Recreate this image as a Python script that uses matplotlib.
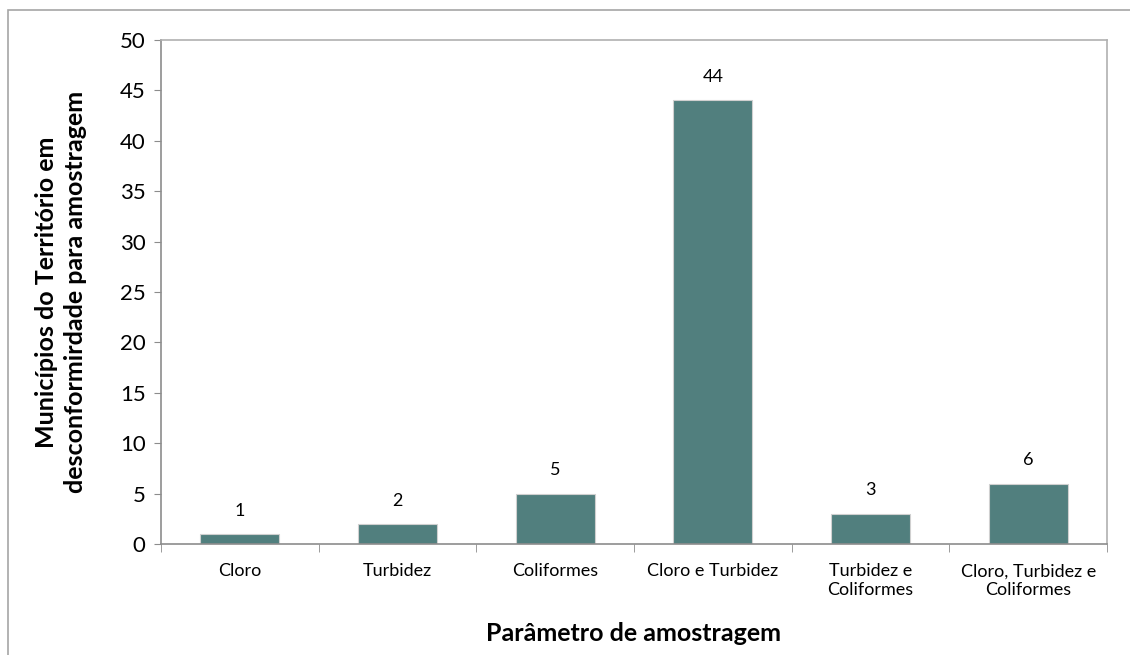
import matplotlib.pyplot as plt
from matplotlib.patches import Rectangle

plt.rcParams['font.family'] = ['Lato', 'DejaVu Sans']

categorias = ['Cloro', 'Turbidez', 'Coliformes', 'Cloro e Turbidez',
              'Turbidez e\nColiformes', 'Cloro, Turbidez e\nColiformes']
valores = [1, 2, 5, 44, 3, 6]

cor_barra = '#517f7e'
cor_eixo = '#8c8c8c'

fig = plt.figure(figsize=(11.3, 6.55), dpi=100)
# borda da figura (estilo Excel)
fig.patches.append(Rectangle((8 / 1130, -0.01), 1.1, 1 - 10 / 655 + 0.01,
                             transform=fig.transFigure, fill=False,
                             edgecolor='#a6a6a6', linewidth=1.2))

ax = fig.add_axes([161 / 1130, 1 - 544 / 655, (1107 - 161) / 1130, (544 - 40) / 655])

x = range(len(categorias))
bars = ax.bar(x, valores, width=0.5, color=cor_barra, edgecolor='#d0d0d0', linewidth=0.8)

for xi, v in zip(x, valores):
    ax.annotate(str(v), (xi, v), xytext=(0, 11), textcoords='offset points',
                ha='center', va='bottom', fontsize=13, color='#000000')

ax.set_xlim(-0.5, len(categorias) - 0.5)
ax.set_ylim(0, 50)
ax.set_yticks(range(0, 51, 5))
ax.tick_params(axis='y', labelsize=16, length=5, color=cor_eixo, pad=6)

ax.set_xticks(list(x))
ax.set_xticklabels(categorias, fontsize=13)
ax.set_xticks([i - 0.5 for i in range(len(categorias) + 1)], minor=True)
ax.tick_params(axis='x', which='major', length=0, pad=14)
ax.tick_params(axis='x', which='minor', length=6, color=cor_eixo)

for s in ax.spines.values():
    s.set_color(cor_eixo)
    s.set_linewidth(1.2)
ax.spines['top'].set_color('#b0b0b0')
ax.spines['right'].set_color('#b0b0b0')

ax.set_ylabel('Municípios do Território em\ndesconformirdade para amostragem',
              fontsize=18, fontweight='bold', labelpad=24, linespacing=1.3)
ax.set_xlabel('Parâmetro de amostragem', fontsize=18, fontweight='bold', labelpad=17)

fig.savefig('out.png', dpi=100)
